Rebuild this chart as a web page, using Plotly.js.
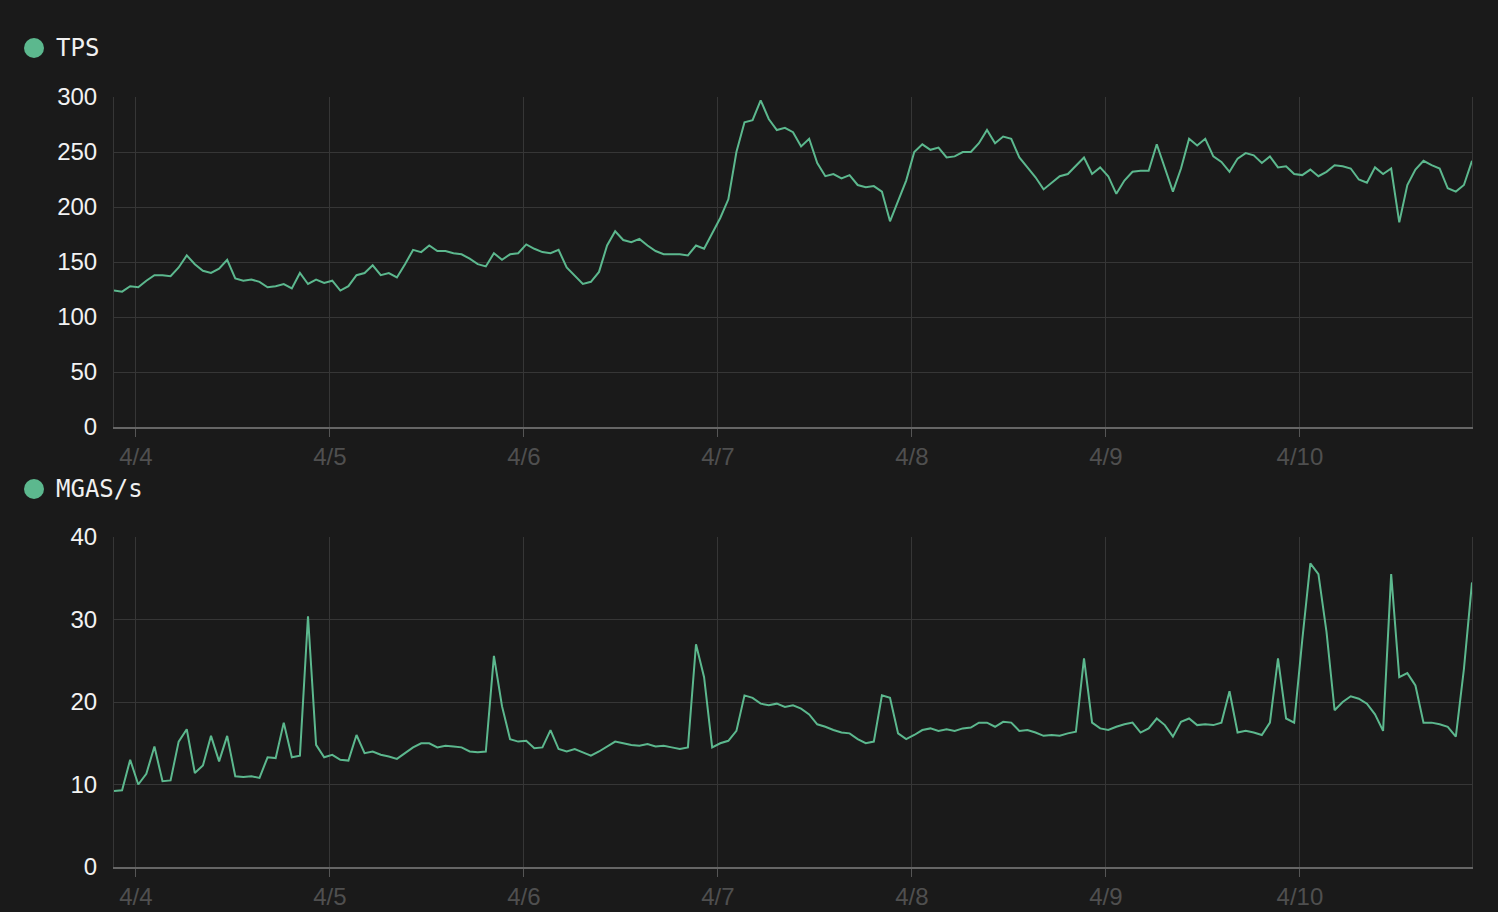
<!DOCTYPE html>
<html>
<head>
<meta charset="utf-8">
<script src="https://cdn.plot.ly/plotly-3.0.1.min.js"></script>
<style>
  html, body { margin: 0; padding: 0; background: #1a1a1a; }
  #chart { width: 1498px; height: 912px; }
</style>
</head>
<body>
<div id="chart"></div>
<script>
// Hourly samples starting 2024-04-03 21:17
const startTime = '2024-04-03T21:17:00Z';
const stepHours = 1;

const tpsValues = [
  124,123,128,127,133,138,138,137,145,156,148,142,140,144,152,135,133,134,132,127,
  128,130,126,140,130,134,131,133,124,128,138,140,147,138,140,136,148,161,159,165,
  160,160,158,157,153,148,146,158,152,157,158,166,162,159,158,161,145,
  137,130,132,141,165,178,170,168,171,165,160,157,157,157,156,165,162,176,190,207,
  250,277,279,297,280,270,272,268,255,262,240,228,230,226,229,220,218,219,214,187,
  205,224,250,257,252,254,245,246,250,250,258,270,258,264,262,245,
  236,227,216,222,228,230,238,245,230,236,228,212,224,232,233,233,257,235,214,235,
  262,256,262,246,241,232,244,249,247,240,246,236,237,230,229,234,228,232,238,237,
  235,225,222,236,230,235,186,220,234,242,238,235,217,214,220,242
];

const mgasValues = [
  9.2,9.3,13.0,10.0,11.3,14.6,10.4,10.5,15.2,16.7,11.4,12.3,15.9,12.8,15.9,11.0,10.9,11.0,10.8,13.3,
  13.2,17.5,13.3,13.5,30.4,14.8,13.3,13.6,13.0,12.9,16.0,13.8,14.0,13.6,13.4,13.1,13.8,14.5,15.0,15.0,
  14.5,14.7,14.6,14.5,14.0,13.9,14.0,25.6,19.5,15.5,15.2,15.3,14.4,14.5,16.6,14.3,14.0,
  14.3,13.9,13.5,14.0,14.6,15.2,15.0,14.8,14.7,14.9,14.6,14.7,14.5,14.3,14.5,27.0,23.0,14.5,15.0,15.3,
  16.5,20.8,20.5,19.8,19.6,19.8,19.4,19.6,19.2,18.5,17.3,17.0,16.6,16.3,16.2,15.5,15.0,15.2,20.8,20.5,
  16.2,15.5,16.0,16.6,16.8,16.5,16.7,16.5,16.8,16.9,17.5,17.5,17.0,17.6,17.5,16.5,
  16.6,16.3,15.9,16.0,15.9,16.2,16.4,25.3,17.5,16.8,16.6,17.0,17.3,17.5,16.3,16.8,18.0,17.2,15.8,17.6,
  18.0,17.2,17.3,17.2,17.5,21.3,16.3,16.5,16.3,16.0,17.5,25.3,18.0,17.5,27.5,36.8,35.5,28.5,19.0,20.0,
  20.7,20.4,19.8,18.5,16.5,35.5,23.0,23.5,22.0,17.5,17.5,17.3,17.0,15.8,24.0,34.5
];

const seriesNames = ['TPS', 'MGAS/s'];
const xRange = ['2024-04-03 21:17', '2024-04-10 21:17'];
const firstTick = '2024-04-04';

function timeAxis(n) {
  const base = Date.parse(startTime);
  const out = [];
  for (let i = 0; i < n; i++) {
    out.push(new Date(base + i * stepHours * 3600000).toISOString().slice(0, 19).replace('T', ' '));
  }
  return out;
}

const green = '#5cb88e';
const bg = '#1a1a1a';
const gridColor = '#363636';
const tickFont = { family: 'Liberation Sans, Arial, sans-serif', size: 24, color: '#4f4f4f' };
const yTickFont = { family: 'Liberation Sans, Arial, sans-serif', size: 24, color: '#f2f2f2' };

const traces = [
  { x: timeAxis(tpsValues.length), y: tpsValues, type: 'scatter', mode: 'lines',
    line: { color: green, width: 2 }, xaxis: 'x', yaxis: 'y', hoverinfo: 'skip' },
  { x: timeAxis(mgasValues.length), y: mgasValues, type: 'scatter', mode: 'lines',
    line: { color: green, width: 2 }, xaxis: 'x2', yaxis: 'y2', hoverinfo: 'skip' }
];

function xAxis(anchor) {
  return {
    type: 'date', range: xRange, anchor: anchor,
    tick0: firstTick, dtick: 86400000, tickformat: '%-m/%-d',
    showgrid: true, gridcolor: gridColor, gridwidth: 1,
    showline: true, linecolor: '#666666', linewidth: 1.5,
    ticks: 'outside', ticklen: 8, tickcolor: '#555555', tickwidth: 1,
    tickfont: tickFont, zeroline: false, fixedrange: true
  };
}
function yAxis(domain, range, dtick, anchor) {
  return {
    domain: domain, range: range, dtick: dtick, anchor: anchor,
    showgrid: true, gridcolor: gridColor, gridwidth: 1,
    showline: true, linecolor: gridColor, linewidth: 1, mirror: true,
    ticks: '', ticklabelstandoff: 11, tickfont: yTickFont,
    zeroline: false, fixedrange: true
  };
}

const topDomain = [440 / 770, 1];
const botDomain = [0, 330 / 770];

function header(text, yPaper) {
  return {
    xref: 'paper', yref: 'paper', x: -60 / 1358, y: yPaper,
    xanchor: 'left', yanchor: 'middle', showarrow: false, text: text,
    font: { family: 'DejaVu Sans Mono, monospace', size: 24, color: '#f0f0f0' }
  };
}
function dot(yPaper) {
  return {
    type: 'circle', xref: 'paper', yref: 'paper',
    xsizemode: 'pixel', ysizemode: 'pixel',
    xanchor: -80 / 1358, yanchor: yPaper,
    x0: -10, x1: 10, y0: -10, y1: 10,
    fillcolor: green, line: { width: 0 }
  };
}

const y1Header = (867 - 48) / 770;
const y2Header = (867 - 489) / 770;

const layout = {
  width: 1498, height: 912,
  margin: { l: 114, r: 26, t: 97, b: 45 },
  paper_bgcolor: bg, plot_bgcolor: bg,
  showlegend: false, hovermode: false,
  xaxis: xAxis('y'),
  xaxis2: xAxis('y2'),
  yaxis: yAxis(topDomain, [0, 300], 50, 'x'),
  yaxis2: yAxis(botDomain, [0, 40], 10, 'x2'),
  annotations: [header(seriesNames[0], y1Header), header(seriesNames[1], y2Header)],
  shapes: [dot(y1Header), dot(y2Header)]
};

Plotly.newPlot('chart', traces, layout, { displayModeBar: false, staticPlot: true });
</script>
</body>
</html>
